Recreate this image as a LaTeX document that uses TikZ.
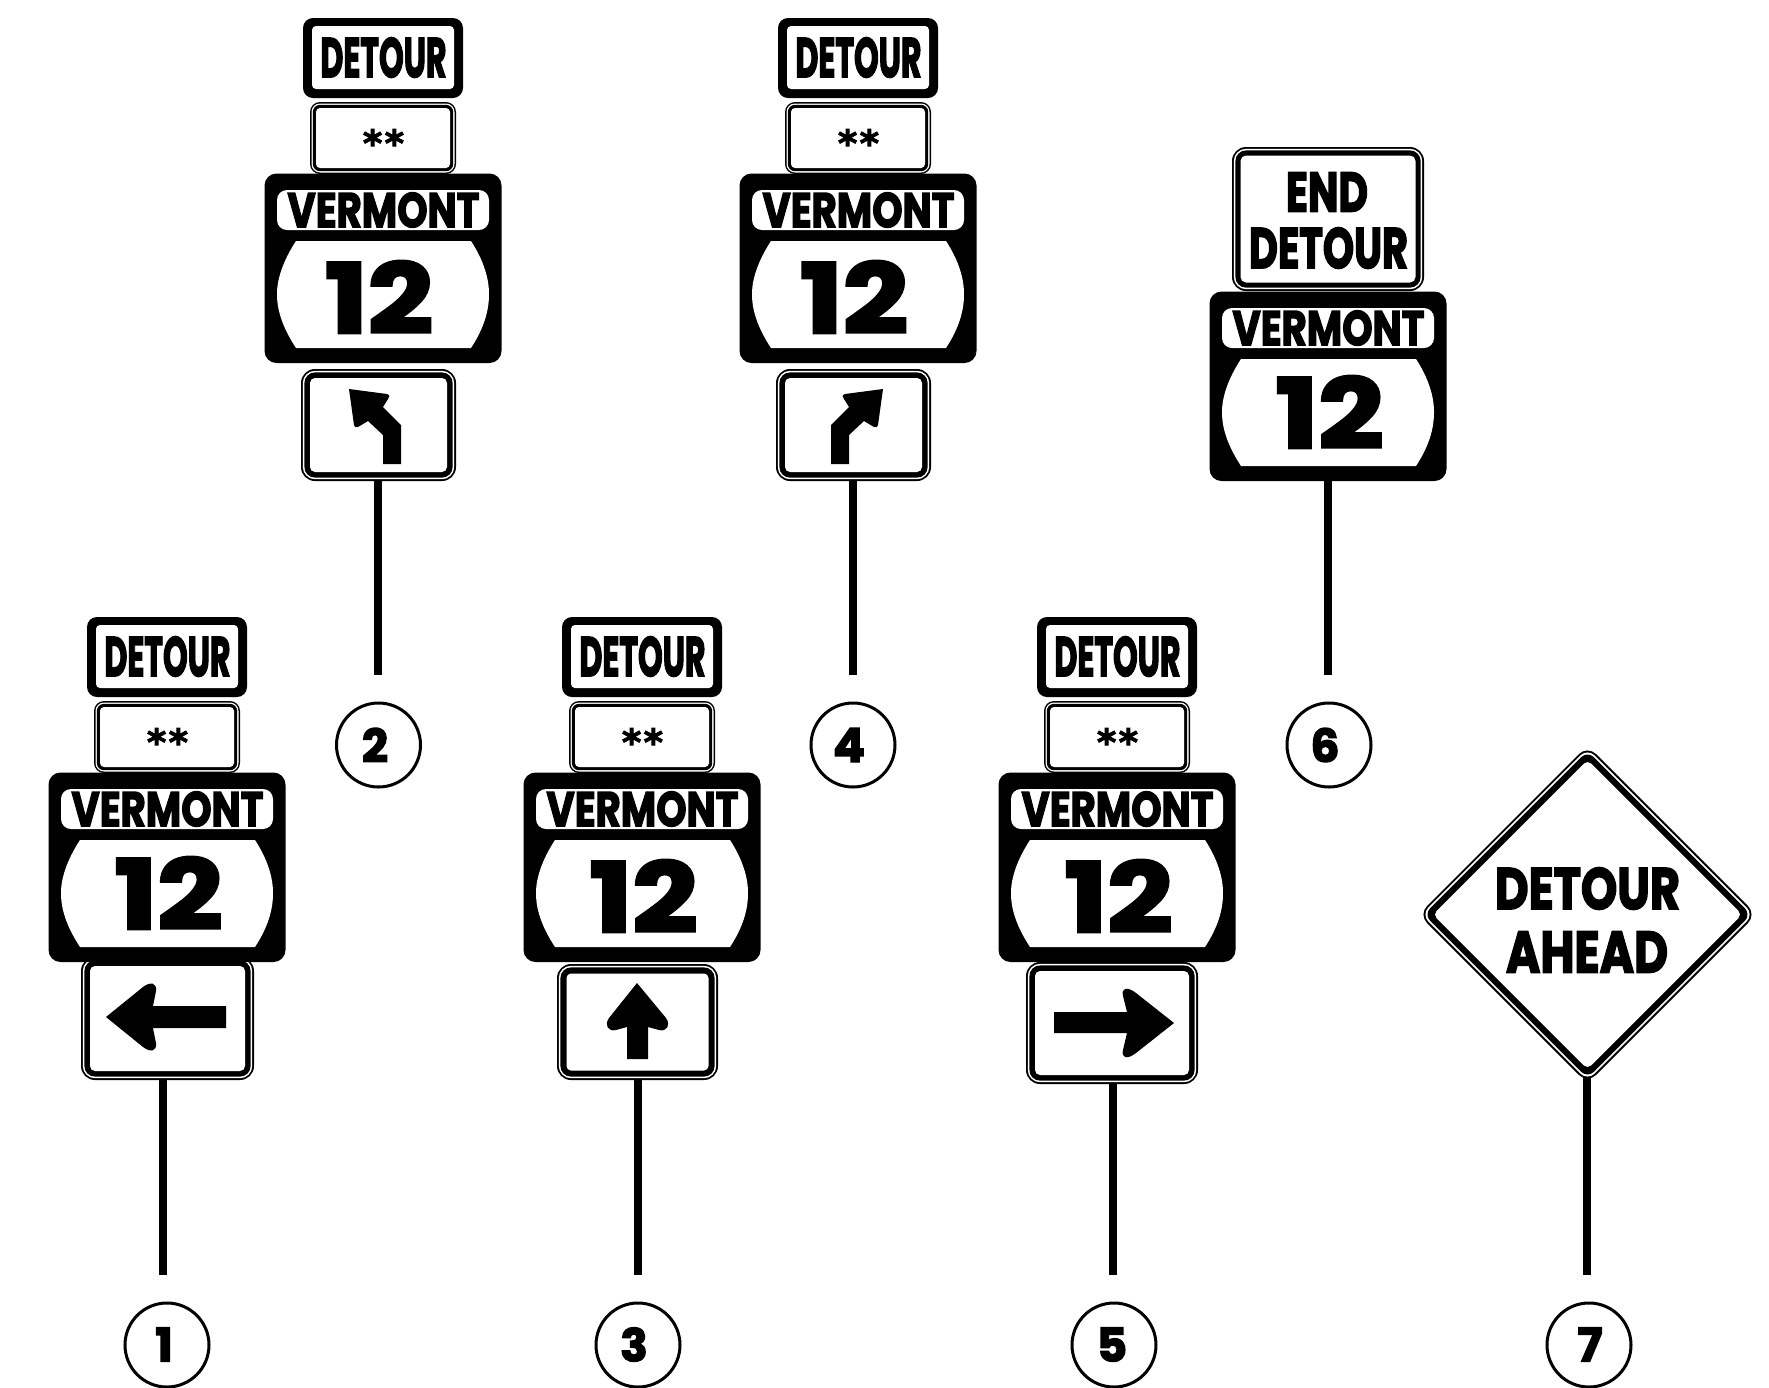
\documentclass[tikz,border=0pt]{standalone}
\usepackage{graphicx}
\usepackage{fontspec}
\newfontfamily\signfont{Poppins}[BoldFeatures={FakeBold=3}]
\newfontfamily\starfont{DejaVu Sans}[BoldFeatures={FakeBold=2.5}]
\newcommand\fittext[3]{\resizebox*{\dimexpr#1pt/2\relax}{\dimexpr#2pt/2\relax}{\signfont\bfseries #3}}
\newcommand\dighgt[1]{\resizebox*{!}{17pt}{\signfont\bfseries #1}}
% layered double-line panel: x1 y1 x2 y2 thin gapend total radius(pt)
\newcommand\dblbox[8]{%
  \pgfmathsetmacro\ra{max(#8-#5/2,1)}%
  \pgfmathsetmacro\rb{max(#8-#6/2,1)}%
  \pgfmathsetmacro\rc{max(#8-#7/2,1)}%
  \fill[black,rounded corners=#8pt] (#1,#2) rectangle (#3,#4);
  \fill[white,rounded corners=\ra pt] ({#1+#5},{#2+#5}) rectangle ({#3-#5},{#4-#5});
  \fill[black,rounded corners=\rb pt] ({#1+#6},{#2+#6}) rectangle ({#3-#6},{#4-#6});
  \fill[white,rounded corners=\rc pt] ({#1+#7},{#2+#7}) rectangle ({#3-#7},{#4-#7});
}
% DETOUR panel and ** panel : prefix dx dy
\newcommand\detourstack[3]{%
  \begin{scope}[shift={(#2,#3)}]
    \fill[black,rounded corners=5pt] (87,617) rectangle (247,697);
    \fill[white,rounded corners=2pt] (96,625) rectangle (238,688);
    \node[txt] (#1detour) at (167.5,656.5) {\fittext{126}{40}{DETOUR}};
    \dblbox{94}{701}{240}{773}{1.5}{2.8}{6}{5}
    \node[starst] (#1stars) at (167.5,755.5) {*\kern1.2pt*};
  \end{scope}
}
% VERMONT shield panel : prefix dx dy digit-dx digit-dy
\newcommand\vermontpanel[5]{%
  \begin{scope}[shift={(#2,#3)}]
    \fill[black,rounded corners=6pt] (48.5,772.5) rectangle (285.5,962);
    \fill[white,rounded corners=5pt] (61,789) rectangle (273,829);
    \fill[white] (80,840) -- (255,840) .. controls (268,860) and (273,878) .. (273,893)
      .. controls (273,910) and (268,927) .. (255,947) -- (80,947)
      .. controls (67,927) and (61,910) .. (61,893) .. controls (61,878) and (67,860) .. (80,840) -- cycle;
    \node[txt] (#1state) at (167.5,809) {\fittext{192}{35}{VERMONT}};
    \node[txt] (#1route) at ({168.5+#4},{893+#5}) {\fittext{108}{72}{12}};
  \end{scope}
}
\tikzset{
  post/.style={line width=4pt,black},
  txt/.style={inner sep=0pt,outer sep=0pt},
  ring/.style={circle,draw=black,fill=white,line width=1.5pt,minimum size=42pt,inner sep=0pt,outer sep=0pt},
  starst/.style={inner sep=0pt,outer sep=0pt,anchor=base,font=\starfont\bfseries\fontsize{18.5}{18.5}\selectfont},
}
\begin{document}
\begin{tikzpicture}[x=0.5pt,y=-0.5pt]
\useasboundingbox[fill=white] (0,0) rectangle (1769,1388);

% end points of the posts
\coordinate (top1) at (163,1075); \coordinate (foot1) at (163,1275);
\coordinate (top2) at (378,476);   \coordinate (foot2) at (378,675);
\coordinate (top3) at (638,1075);  \coordinate (foot3) at (638,1275);
\coordinate (top4) at (853,476);   \coordinate (foot4) at (853,675);
\coordinate (top5) at (1113,1080); \coordinate (foot5) at (1113,1275);
\coordinate (top6) at (1328,476);  \coordinate (foot6) at (1328,675);
\coordinate (top7) at (1587,1070); \coordinate (foot7) at (1587,1275);
\foreach \i in {1,...,7} \draw[post] (top\i) -- (foot\i);

% sign 1
\dblbox{81}{957}{254}{1080}{1.8}{3.4}{9}{7}
\fill (106,1017) -- (143,987) .. controls (151,981) and (157,983) .. (156,991) -- (153,1006)
  -- (226,1006) -- (226,1028) -- (153,1028) -- (156,1043) .. controls (157,1051) and (151,1053) .. (143,1047) -- cycle;
\detourstack{a}{0}{0}
\vermontpanel{a}{0}{0}{0}{0}

% sign 2
\dblbox{301}{369}{456}{481}{1.8}{3.4}{9}{7}
\fill (349,389) -- (387,394) .. controls (390,395) and (390,397) .. (388,399) -- (383,407)
  -- (401,425) -- (401,464) -- (383,464) -- (383,435) -- (368,421) -- (358,427)
  .. controls (356,428) and (354,427) .. (354,425) -- cycle;
\detourstack{b}{216}{-599}
\vermontpanel{b}{216}{-599}{-5.5}{3}

% sign 3
\dblbox{557}{964}{718}{1080}{1.8}{3.4}{9.5}{7}
\fill (637,983) -- (609,1018) .. controls (604,1025) and (608,1032) .. (616,1030) -- (627,1027)
  -- (627,1059) -- (648,1059) -- (648,1027) -- (659,1030) .. controls (667,1032) and (671,1025) .. (666,1018) -- cycle;
\detourstack{c}{475}{0}
\vermontpanel{c}{475}{0}{0}{3}

% sign 4
\dblbox{776}{369}{931}{481}{1.8}{3.4}{9}{7}
\begin{scope}[shift={(1232,0)},xscale=-1]
\fill (349,389) -- (387,394) .. controls (390,395) and (390,397) .. (388,399) -- (383,407)
  -- (401,425) -- (401,464) -- (383,464) -- (383,435) -- (368,421) -- (358,427)
  .. controls (356,428) and (354,427) .. (354,425) -- cycle;
\end{scope}
\detourstack{d}{691}{-599}
\vermontpanel{d}{691}{-599}{-5.5}{3}

% sign 5
\dblbox{1026}{962}{1198}{1084}{1.8}{3.4}{9}{7}
\fill (1174,1023) -- (1136,993) .. controls (1127,986) and (1121,988) .. (1123,996) -- (1127,1012)
  -- (1054,1012) -- (1054,1033) -- (1127,1033) -- (1123,1050) .. controls (1121,1058) and (1127,1060) .. (1136,1053) -- cycle;
\detourstack{e}{950}{0}
\vermontpanel{e}{950}{0}{0}{3}

% sign 6
\dblbox{1232}{147}{1424}{291}{1.8}{3.4}{8.5}{7}
\node[txt] (endword) at (1327,192) {\fittext{82}{39}{END}};
\node[txt] (detword) at (1328.5,248) {\fittext{159}{41}{DETOUR}};
\vermontpanel{f}{1161}{-481}{0}{0}

% sign 7
\fill[black,rounded corners=6pt] (1587.5,745.5) -- (1756.5,914.5) -- (1587.5,1083.5) -- (1418.5,914.5) -- cycle;
\fill[white,rounded corners=5pt] (1587.5,748.3) -- (1753.7,914.5) -- (1587.5,1080.7) -- (1421.3,914.5) -- cycle;
\fill[black,rounded corners=4.5pt] (1587.5,750.8) -- (1751.2,914.5) -- (1587.5,1078.2) -- (1423.8,914.5) -- cycle;
\fill[white,rounded corners=2.5pt] (1587.5,760) -- (1742,914.5) -- (1587.5,1069) -- (1433,914.5) -- cycle;
\node[txt] (ahead1) at (1587.5,888.5) {\fittext{185}{42}{DETOUR}};
\node[txt] (ahead2) at (1587,952) {\fittext{162}{41}{AHEAD}};

% numbered circles
\node[ring] (c1) at (167,1345) {};
\node[ring] (c2) at (378.5,745) {};
\node[ring] (c3) at (638,1345) {};
\node[ring] (c4) at (853,745) {};
\node[ring] (c5) at (1114,1345) {};
\node[ring] (c6) at (1329,745) {};
\node[ring] (c7) at (1589,1345) {};
\node[txt] (n1) at (164,1344.5) {\dighgt{1}};
\node[txt] (n2) at (375,745) {\dighgt{2}};
\node[txt] (n3) at (634,1344.5) {\dighgt{3}};
\node[txt] (n4) at (849,745) {\dighgt{4}};
\node[txt] (n5) at (1112,1344.5) {\dighgt{5}};
\node[txt] (n6) at (1325,745) {\dighgt{6}};
\node[txt] (n7) at (1590,1344.5) {\dighgt{7}};
\end{tikzpicture}
\end{document}
